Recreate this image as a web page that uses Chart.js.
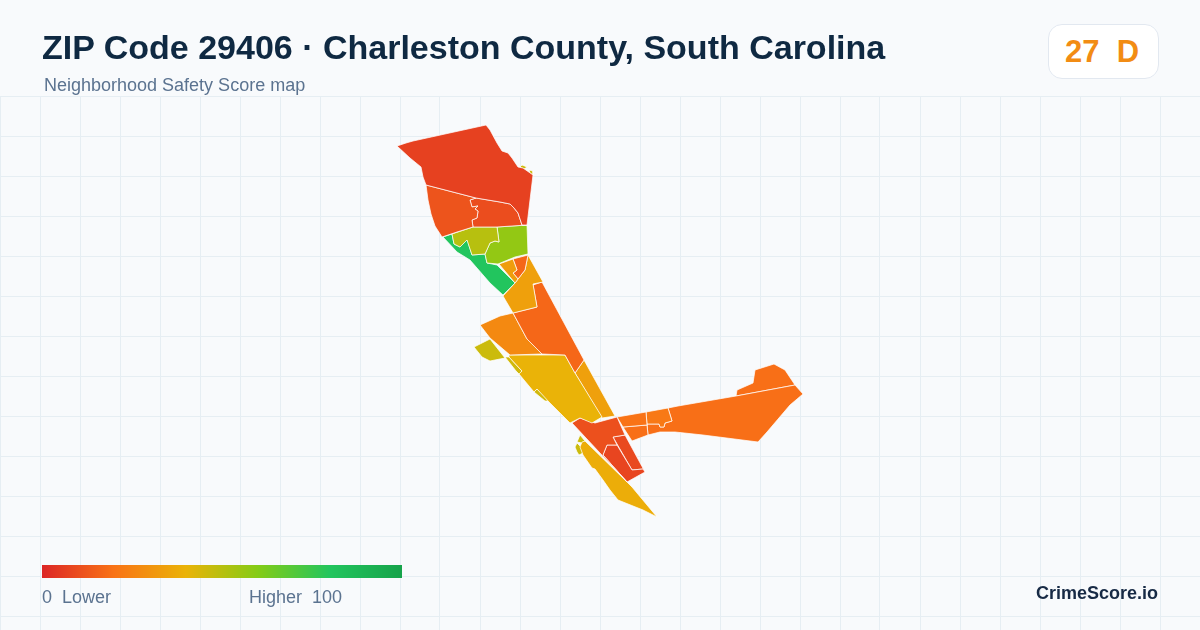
<!DOCTYPE html>
<html>
<head>
<meta charset="utf-8">
<title>ZIP Code 29406</title>
<script src="https://cdn.jsdelivr.net/npm/chart.js@4/dist/chart.umd.min.js"></script>
<style>
	html, body { margin: 0; padding: 0; background: #f8fafc; }
	#wrap { position: relative; width: 1200px; height: 630px; overflow: hidden; font-family: "Liberation Sans", Arial, sans-serif; }
	#map { position: absolute; left: 0; top: 0; }
	.txt { position: absolute; white-space: pre; line-height: 1; }
	#title { left: 42px; top: 30px; font-size: 34px; font-weight: 700; color: #0f2942; }
	#subtitle { left: 44px; top: 76px; font-size: 18px; color: #5b7390; }
	#badge { position: absolute; left: 1048px; top: 24px; width: 109px; height: 53px; background: #fff; border: 1px solid #e2e8f0; border-radius: 14px; }
	#score { left: 1065px; top: 36px; font-size: 31px; font-weight: 700; color: #f28c14; }
	#ramp { position: absolute; left: 42px; top: 565px; width: 360px; height: 13px; }
	#low { left: 42px; top: 588px; font-size: 18px; color: #5b7390; }
	#high { left: 249px; top: 588px; font-size: 18px; color: #5b7390; }
	#brand { right: 42px; top: 584px; font-size: 18px; font-weight: 700; color: #172a45; }
</style>
</head>
<body>
<div id="wrap">
	<canvas id="map" width="1200" height="630"></canvas>
	<div class="txt" id="title">ZIP Code 29406 · Charleston County, South Carolina</div>
	<div class="txt" id="subtitle">Neighborhood Safety Score map</div>
	<div id="badge"></div>
	<div class="txt" id="score">27  D</div>
	<div id="ramp"></div>
	<div class="txt" id="low">0  Lower</div>
	<div class="txt" id="high">Higher  100</div>
	<div class="txt" id="brand">CrimeScore.io</div>
</div>
<script>
	'use strict';

	// Colour ramp of the score scale
	const rampScores = [0, 20, 40, 60, 80, 100];
	const rampColors = ['#dc2626', '#f97316', '#eab308', '#84cc16', '#22c55e', '#16a34a'];

	// Grid rows and columns of the map backdrop
	const gridCols = [0, 40, 80, 120, 160, 200, 240, 280, 320, 360, 400, 440, 480, 520, 560, 600, 640, 680, 720, 760, 800, 840, 880, 920, 960, 1000, 1040, 1080, 1120, 1160, 1200];
	const gridRows = [96, 136, 176, 216, 256, 296, 336, 376, 416, 456, 496, 536, 576, 616];

	// Tract outlines, in map units
	const northTract = [[397,146],[406,143],[413,141],[486,125],[490,130],[497,143],[502,151],[508,153],[512,158],[518,167],[523,168],[533,175],[530,200],[527,225],[522,225],[520,219],[518,213],[514,208],[510,204],[500,202],[476,198],[426,185],[423,177],[421,167],[410,158]];
	const westTract = [[426,185],[476,198],[470,200],[472,207],[478,206],[475,209],[478,211],[477,218],[472,220],[473,227],[457,232],[442,237],[435,226],[431,214],[428,200]];
	const eastTract = [[476,198],[500,202],[510,204],[514,208],[518,213],[520,219],[522,225],[527,225],[497,227],[473,227],[472,220],[477,218],[478,211],[475,209],[478,206],[472,207],[470,200]];
	const oliveTract = [[452,234],[473,227],[497,227],[499,242],[495,241],[490,243],[485,254],[472,255],[467,240],[460,247],[454,244]];
	const limeTract = [[497,227],[527,225],[528,254],[515,257],[498,264],[487,263],[485,254],[490,243],[495,241],[499,242]];
	const greenTract = [[443,237],[452,234],[454,244],[460,247],[467,239],[472,255],[485,254],[487,263],[497,265],[515,283],[503,295],[490,283],[470,260],[457,252]];
	const notchTract = [[499,264],[513,259],[517,270],[513,273],[518,279],[515,283]];
	const wedgeTract = [[513,259],[528,255],[525,270],[518,279],[513,273],[517,270]];
	const stemTract = [[528,255],[543,282],[533,284],[537,307],[513,313],[503,296],[515,283],[518,279],[525,270]];
	const corridorTract = [[533,285],[542,282],[584,360],[575,373],[565,355],[542,354],[527,339],[513,313],[537,307]];
	const riverTract = [[480,325],[500,316],[513,313],[527,339],[542,354],[510,355],[490,338]];
	const marshTract = [[474,347],[490,339],[505,358],[490,361],[482,357]];
	const midTract = [[509,355],[565,355],[575,373],[602,417],[592,423],[580,418],[570,423],[549,402],[537,389],[534,392],[519,374],[522,371],[509,357]];
	const sliverA = [[505,357],[509,357],[522,371],[520,375],[516,371]];
	const sliverB = [[534,392],[537,389],[549,401],[545,401]];
	const stripTract = [[584,360],[615,416],[602,418],[575,373]];
	const southMain = [[572,423],[580,418],[595,423],[617,417],[625,435],[613,437],[617,445],[607,445],[603,455],[627,482]];
	const southLower = [[603,455],[607,445],[617,445],[632,470],[643,469],[645,472],[627,482]];
	const southRight = [[613,437],[625,435],[645,472],[643,469],[632,470]];
	const peninsula = [[582,442],[585,441],[627,482],[632,487],[657,517],[643,510],[633,506],[618,500],[610,490],[603,480],[595,469],[592,468],[583,455],[580,447]];
	const isletNorth = [[580,435],[585,441],[582,443],[577,442]];
	const isletSouth = [[575,447],[577,443],[581,447],[583,453],[579,455],[577,452]];
	const bridgeA = [[617,417],[646,412],[647,425],[623,427]];
	const bridgeB = [[623,427],[647,425],[648,435],[632,441]];
	const bridgeC = [[646,412],[668,408],[672,421],[665,423],[664,427],[660,427],[659,424],[647,424]];
	const eastLong = [[668,408],[678,406],[736,396],[795,385],[803,394],[790,405],[767,432],[758,442],[703,435],[675,432],[660,432],[648,435],[647,424],[659,424],[660,427],[664,427],[665,423],[672,421]];
	const eastCap = [[736,396],[737,390],[753,383],[755,370],[774,364],[785,370],[795,385]];
	const coastSpeckA = [[520,167],[522,165],[527,167],[524,169]];
	const coastSpeckB = [[529,170],[533,171],[533,175],[530,173]];

	const tracts = [northTract, westTract, eastTract, oliveTract, limeTract, greenTract, notchTract, wedgeTract, stemTract, corridorTract, riverTract, marshTract, midTract, sliverA, sliverB, stripTract, southMain, southLower, southRight, peninsula, isletNorth, isletSouth, bridgeA, bridgeB, bridgeC, eastLong, eastCap, coastSpeckA, coastSpeckB];
	const tractScores = [7, 12, 10, 50, 57, 80, 33, 17, 34, 17, 27, 46, 40, 45, 45, 34, 11, 8, 9, 38, 46, 46, 20, 19, 22, 19, 19, 46, 46];

	function hexToRgb(hex) {
		return [1, 3, 5].map(i => parseInt(hex.slice(i, i + 2), 16));
	}

	/**
	 * Score to ramp colour
	 */
	function scoreColor(score) {
		let i = 0;
		while (i < rampScores.length - 2 && score > rampScores[i + 1]) i++;
		const t = (score - rampScores[i]) / (rampScores[i + 1] - rampScores[i]);
		const a = hexToRgb(rampColors[i]);
		const b = hexToRgb(rampColors[i + 1]);
		const rgb = a.map((v, k) => Math.round(v + (b[k] - v) * t));
		return `rgb(${rgb.join(',')})`;
	}

	document.getElementById('ramp').style.background =
		'linear-gradient(to right,' + rampColors.map((c, i) => `${c} ${rampScores[i]}%`).join(',') + ')';

	const datasets = tracts.map((tract, i) => ({
		data: tract.concat([tract[0]]).map(p => ({ x: p[0], y: p[1] })),
		showLine: true,
		fill: 'shape',
		tension: 0,
		backgroundColor: scoreColor(tractScores[i]),
		borderColor: 'rgba(255,255,255,0.8)',
		borderWidth: 0.9,
		pointRadius: 0
	}));

	new Chart(document.getElementById('map'), {
		type: 'scatter',
		data: { datasets: datasets },
		options: {
			responsive: false,
			animation: false,
			devicePixelRatio: 1,
			layout: { padding: { top: 96 } },
			plugins: { legend: { display: false }, tooltip: { enabled: false } },
			scales: {
				x: {
					min: 0,
					max: 1200,
					afterBuildTicks: scale => { scale.ticks = gridCols.map(v => ({ value: v })); },
					ticks: { display: false },
					border: { display: false },
					grid: { color: '#e6eef3', lineWidth: 1, drawTicks: false }
				},
				y: {
					min: 96,
					max: 630,
					reverse: true,
					afterBuildTicks: scale => { scale.ticks = gridRows.map(v => ({ value: v })); },
					ticks: { display: false },
					border: { display: false },
					grid: { color: '#e6eef3', lineWidth: 1, drawTicks: false }
				}
			}
		}
	});
</script>
</body>
</html>
